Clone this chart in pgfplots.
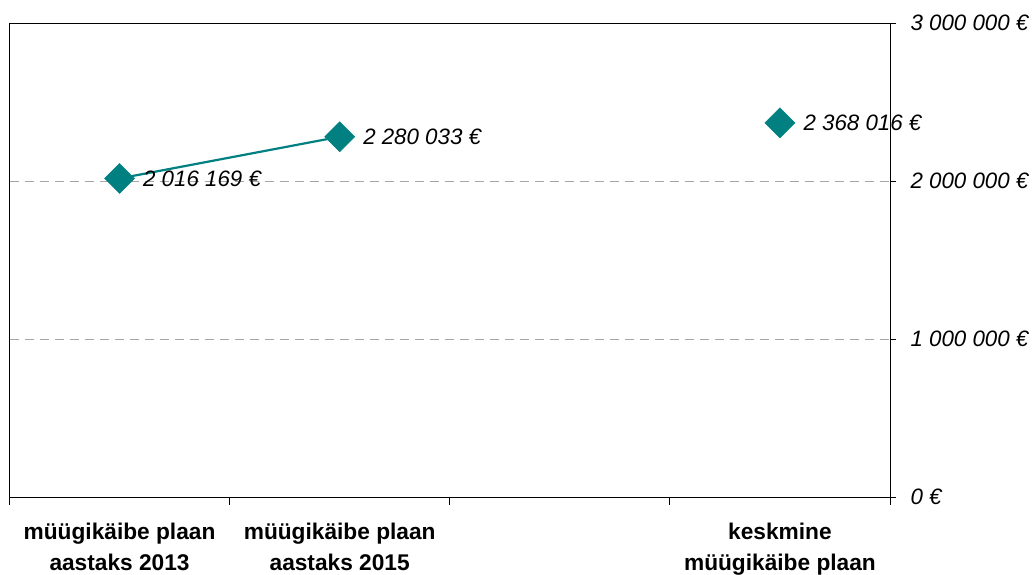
\documentclass[border=0pt]{standalone}
\usepackage{fontspec}
\setmainfont{Liberation Sans}
\usepackage{pgfplots}
\pgfplotsset{compat=1.18}
\definecolor{teal8}{HTML}{008080}
\begin{document}
\begin{tikzpicture}
\begin{axis}[name=ax,
  scale only axis, width=880.5pt, height=474pt,
  xmin=0, xmax=4, ymin=0, ymax=3000000,
  scaled ticks=false,
  axis line style={black, line width=0.9pt},
  xtick={0.5,1.5,2.5,3.5},
  xticklabels={{müügikäibe plaan\\aastaks 2013},{müügikäibe plaan\\aastaks 2015},{},{keskmine\\müügikäibe plaan}},
  xticklabel style={align=center, font=\fontsize{22.7}{30.5}\selectfont\bfseries, yshift=-17pt},
  major x tick style={draw=none},
  minor xtick={0,1,2,3,4},
  minor tick length=8pt,
  minor tick style={black, line width=0.9pt},
  xtick pos=bottom,
  ytick={0,1000000,2000000,3000000},
  yticklabels={0 €,1 000 000 €,2 000 000 €,3 000 000 €},
  yticklabel style={font=\fontsize{22.3}{26}\selectfont\itshape, xshift=11pt},
  ytick pos=right,
  yticklabel pos=right,
  tick align=outside,
  major tick length=6pt,
  major y tick style={black, line width=0.9pt},
  ymajorgrids,
  grid style={gray!70, dashed, line width=0.8pt, dash pattern=on 9pt off 6pt},
  point meta=explicit symbolic,
  nodes near coords,
  nodes near coords style={anchor=west, font=\fontsize{22.3}{26}\selectfont\itshape, xshift=20pt, black},
  clip=false,
]
\addplot[teal8, line width=2.2pt, mark=diamond*, mark size=15pt, mark options={fill=teal8, draw=teal8, line width=0.5pt, xscale=1.333}]
  coordinates {(0.5,2016169) [2 016 169 €] (1.5,2280033) [2 280 033 €]};
\addplot[teal8, only marks, mark=diamond*, mark size=15pt, mark options={fill=teal8, draw=teal8, line width=0.5pt, xscale=1.333}]
  coordinates {(3.5,2368016) [2 368 016 €]};
\end{axis}
\pgfresetboundingbox
\path ([xshift=-9.5pt,yshift=-78pt]ax.south west) rectangle ([xshift=144pt,yshift=23pt]ax.north east);
\end{tikzpicture}
\end{document}
